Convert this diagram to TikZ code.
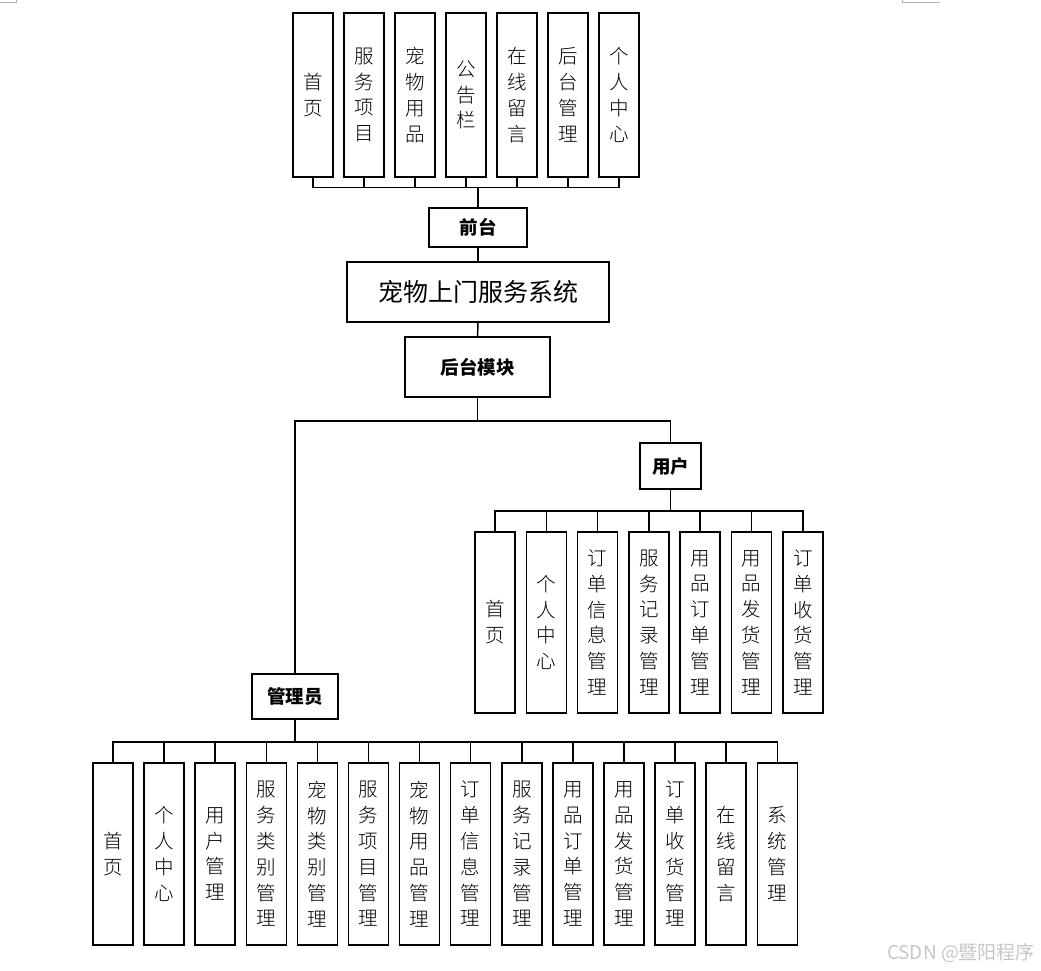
\documentclass[tikz,border=0pt]{standalone}
\usepackage{fontspec}
\setmainfont{Noto Sans CJK SC}
\newfontfamily\cjklight{Noto Sans CJK SC Light}
\usetikzlibrary{calc}

\tikzset{
  box/.style={draw,line width=1.5pt,fill=white,inner sep=0pt,align=center},
  vbox/.style={box,minimum width=40pt,font=\cjklight\fontsize{19.5}{25.8}\selectfont},
  hbox/.style={box,font=\bfseries\fontsize{18.5}{20}\selectfont},
  link/.style={line width=1.5pt}
}

\begin{document}
\begin{tikzpicture}[x=1pt,y=-1pt]
\useasboundingbox (0,0) rectangle (1041,971);
% page corner marks
\draw[gray!60,line width=.6pt] (0,2)--(16,2)--(16,0);
\draw[gray!60,line width=.6pt] (902,0)--(902,2)--(940,2);

% front end
\node[hbox,minimum width=98pt,minimum height=39pt] (qt) at (478,227.5) {前台};
\foreach \t [count=\i from 0] in {首\\页,服\\务\\项\\目,宠\\物\\用\\品,公\\告\\栏,在\\线\\留\\言,后\\台\\管\\理,个\\人\\中\\心} {
  \node[vbox,minimum height=164pt] (f\i) at (313+51*\i,95) {\t};
  \draw[link] (qt.north) -- ++(0,-20) -| (f\i.south);
}

% system and back end
\node[box,minimum width=262pt,minimum height=60pt,font=\fontsize{25}{27}\selectfont] (sys) at (478,292) {宠物上门服务系统};
\node[hbox,minimum width=145pt,minimum height=60pt] (ht) at (477.5,367) {后台模块};
\draw[link] (qt) -- (sys);
\draw[link] (sys) -- (ht);

\node[hbox,minimum width=61pt,minimum height=46pt] (yh) at (670.5,466) {用户};
\node[hbox,minimum width=86pt,minimum height=45pt] (gly) at (295,696.5) {管理员};
\draw[link] (ht.south) -- ++(0,23) -| (yh.north);
\draw[link] (ht.south) -- ++(0,23) -| (gly.north);

% user modules
\foreach \t [count=\i from 0] in {首\\页,个\\人\\中\\心,订\\单\\信\\息\\管\\理,服\\务\\记\\录\\管\\理,用\\品\\订\\单\\管\\理,用\\品\\发\\货\\管\\理,订\\单\\收\\货\\管\\理} {
  \node[vbox,minimum height=181pt] (u\i) at (495+51.3*\i,622.5) {\t};
  \draw[link] (yh.south) -- ++(0,21) -| (u\i.north);
}

% admin modules
\foreach \t [count=\i from 0] in {首\\页,个\\人\\中\\心,用\\户\\管\\理,服\\务\\类\\别\\管\\理,宠\\物\\类\\别\\管\\理,服\\务\\项\\目\\管\\理,宠\\物\\用\\品\\管\\理,订\\单\\信\\息\\管\\理,服\\务\\记\\录\\管\\理,用\\品\\订\\单\\管\\理,用\\品\\发\\货\\管\\理,订\\单\\收\\货\\管\\理,在\\线\\留\\言,系\\统\\管\\理} {
  \node[vbox,minimum height=182pt] (a\i) at (113+51.1*\i,854) {\t};
  \draw[link] (gly.south) -- ++(0,22) -| (a\i.north);
}

\node[text=gray!45,font=\fontsize{19}{21}\selectfont] (wm) at (961,953) {CSDN @暨阳程序};
\end{tikzpicture}
\end{document}
